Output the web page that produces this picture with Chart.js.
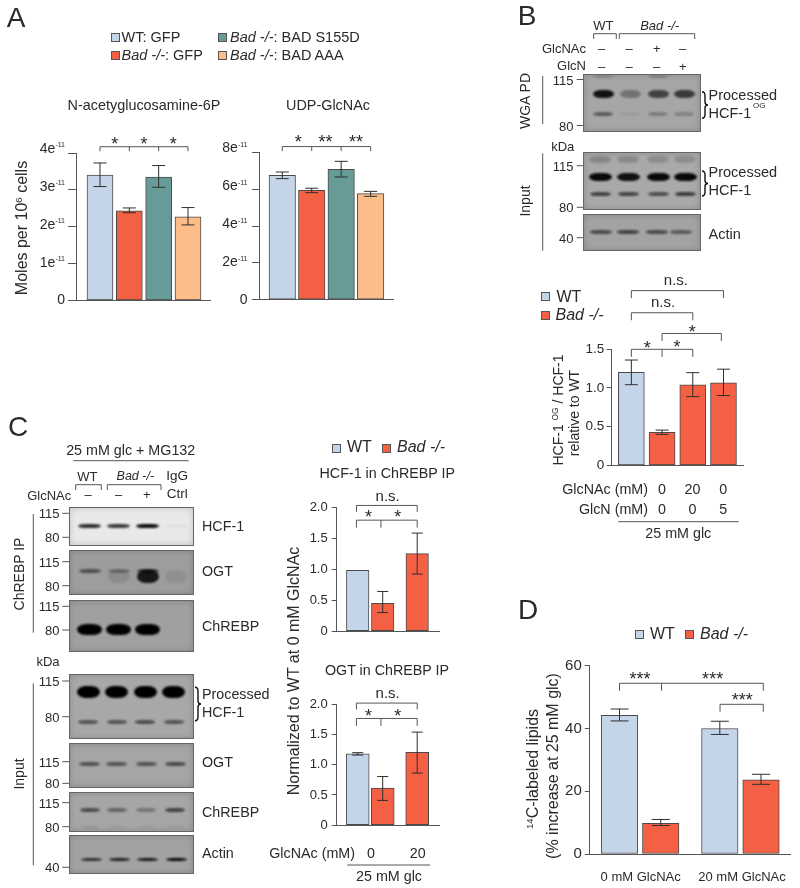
<!DOCTYPE html>
<html>
<head>
<meta charset="utf-8">
<title>HCF-1 / GlcNAc panels</title>
<script src="https://cdn.jsdelivr.net/npm/chart.js@4.4.0/dist/chart.umd.min.js"></script>
<style>
  html, body { margin: 0; background: #fff; }
  #page { position: relative; width: 800px; height: 888px; overflow: hidden; font-family: "Liberation Sans", Arial, sans-serif; color: #2a2a2a; }
  #page canvas { position: absolute; }
  .t { position: absolute; white-space: nowrap; line-height: 1; }
  .t .up { font-size: .6em; vertical-align: .55em; line-height: 0; }
  .sw { position: absolute; box-sizing: border-box; border: 1px solid #555; }
  .blot { position: absolute; box-sizing: border-box; border: 1px solid #666; overflow: hidden; box-shadow: inset 0 0 6px rgba(0,0,0,.18); }
  .band { position: absolute; border-radius: 38% / 50%; background: #000; filter: blur(1.2px); }
  svg { position: absolute; left: 0; top: 0; }
</style>
</head>
<body>
<div id="page"></div>
<script>
// colours of the four groups
const BLUE = '#c5d5e9', RED = '#f46044', TEAL = '#669b98', PEACH = '#fdbd88';

// panel A, N-acetylglucosamine-6P (x 1e-11)
const aGroups = ['WT: GFP', 'Bad -/-: GFP', 'Bad -/-: BAD S155D', 'Bad -/-: BAD AAA'];
const a1Values = [3.40, 2.43, 3.35, 2.27];
const a1Hi = [3.73, 2.51, 3.66, 2.52];
const a1Lo = [3.09, 2.38, 3.07, 2.05];
// panel A, UDP-GlcNAc (x 1e-11)
const a2Values = [6.75, 5.94, 7.07, 5.76];
const a2Hi = [6.93, 6.05, 7.51, 5.88];
const a2Lo = [6.57, 5.81, 6.66, 5.61];
// panel B
const bValues = [1.20, 0.427, 1.037, 1.065];
const bHi = [1.358, 0.455, 1.195, 1.24];
const bLo = [1.04, 0.40, 0.886, 0.90];
const bGlcNAc = ['0', '20', '0'];
const bGlcN = ['0', '0', '5'];
// panel C
const c1Values = [0.98, 0.45, 1.25];
const c1Hi = [null, 0.64, 1.58];
const c1Lo = [null, 0.30, 0.92];
const c2Values = [1.18, 0.613, 1.205];
const c2Hi = [1.20, 0.805, 1.54];
const c2Lo = [1.16, 0.41, 0.862];
const cGlcNAc = ['0', '20'];
// panel D
const dCategories = ['0 mM GlcNAc', '20 mM GlcNAc'];
const dValues = [44.2, 9.8, 40.0, 23.6];
const dHi = [46.2, 11.0, 42.3, 25.4];
const dLo = [42.4, 9.07, 38.1, 22.2];

const page = document.getElementById('page');

function t(x, y, html, o) {
  o = o || {};
  const d = document.createElement('div');
  d.className = 't';
  d.innerHTML = html;
  d.style.left = x + 'px';
  d.style.top = y + 'px';
  d.style.fontSize = (o.s || 14.3) + 'px';
  const tx = o.a === 'l' ? '0' : o.a === 'r' ? '-100%' : '-50%';
  d.style.transform = 'translate(' + tx + ',-50%)' + (o.rot ? ' rotate(-90deg)' : '');
  page.appendChild(d);
}

function swatch(x, y, c) {
  const d = document.createElement('div');
  d.className = 'sw';
  d.style.cssText = 'left:' + x + 'px;top:' + y + 'px;width:9px;height:9px;background:' + c;
  page.appendChild(d);
}

// error bars, brackets, stars: everything goes through the chart's scales
const marks = {
  id: 'marks',
  afterDraw(chart) {
    const m = chart.options.plugins.marks;
    const ctx = chart.ctx, sx = chart.scales.x, sy = chart.scales.y;
    ctx.save();
    ctx.lineWidth = 1;
    ctx.strokeStyle = '#2e2e2e';
    m.hi.forEach((h, i) => {
      if (h === null) return;
      const px = sx.getPixelForValue(m.xs[i]);
      const a = sy.getPixelForValue(h), b = sy.getPixelForValue(m.lo[i]);
      ctx.beginPath();
      ctx.moveTo(px, a); ctx.lineTo(px, b);
      ctx.moveTo(px - m.cap, a); ctx.lineTo(px + m.cap, a);
      ctx.moveTo(px - m.cap, b); ctx.lineTo(px + m.cap, b);
      ctx.stroke();
    });
    ctx.strokeStyle = '#555';
    (m.brackets || []).forEach(br => {
      const y = sy.getPixelForValue(br.at);
      const d = br.drop || 7;
      ctx.beginPath();
      ctx.moveTo(sx.getPixelForValue(br.from), y + d);
      ctx.lineTo(sx.getPixelForValue(br.from), y);
      ctx.lineTo(sx.getPixelForValue(br.to), y);
      ctx.lineTo(sx.getPixelForValue(br.to), y + d);
      (br.mids || []).forEach(v => {
        ctx.moveTo(sx.getPixelForValue(v), y);
        ctx.lineTo(sx.getPixelForValue(v), y + d);
      });
      ctx.stroke();
    });
    ctx.fillStyle = '#2a2a2a';
    ctx.textAlign = 'center';
    ctx.textBaseline = 'middle';
    (m.notes || []).forEach(n => {
      const star = n.text[0] === '*';
      const size = star ? 18 : 15;
      ctx.font = size + 'px "Liberation Sans"';
      ctx.fillText(n.text, sx.getPixelForValue(n.x), sy.getPixelForValue(n.y) + (star ? size * 0.25 : 0));
    });
    if (m.sup) {
      // tick labels with a small raised exponent, they sit a little above the marks near the top
      ctx.textAlign = 'right';
      sy.ticks.forEach(tk => {
        const y = sy.getPixelForValue(tk.value) - 4.5 * tk.value / sy.max + (tk.value ? 0.5 : 0);
        const xr = sx.left - 11.5;
        if (tk.value === 0) {
          ctx.font = '14px "Liberation Sans"';
          ctx.fillText('0', xr, y);
        } else {
          ctx.font = '7px "Liberation Sans"';
          ctx.fillText(m.sup, xr, y - 3.5);
          const w = ctx.measureText(m.sup).width;
          ctx.font = '14px "Liberation Sans"';
          ctx.fillText(tk.value + 'e', xr - w, y);
        }
      });
    }
    ctx.restore();
  }
};

function barPanel(o) {
  const x0 = o.plot[0], y0 = o.plot[1], x1 = o.plot[2], y1 = o.plot[3];
  const left = Math.round(x0 - 62), top = Math.round(y0 - 90);
  const W = Math.round(x1 - left + 12), H = Math.round(y1 - top + 4);
  const c = document.createElement('canvas');
  c.width = W; c.height = H;
  c.style.left = left + 'px';
  c.style.top = top + 'px';
  c.style.width = W + 'px';
  c.style.height = H + 'px';
  page.appendChild(c);
  new Chart(c.getContext('2d'), {
    type: 'bar',
    data: {
      labels: o.xs,
      datasets: [{
        data: o.xs.map((x, i) => ({ x: x, y: o.values[i] })),
        backgroundColor: o.colors,
        borderColor: '#4a4a4a',
        borderWidth: 1,
        borderSkipped: false,
        barThickness: o.bar
      }]
    },
    options: {
      responsive: false,
      animation: false,
      devicePixelRatio: 1,
      events: [],
      layout: { padding: { left: 0, top: y0 - top, right: W - (x1 - left), bottom: H - (y1 - top) } },
      plugins: {
        legend: { display: false },
        tooltip: { enabled: false },
        marks: { xs: o.xs, hi: o.hi, lo: o.lo, cap: o.cap, brackets: o.brackets, notes: o.notes, sup: o.sup }
      },
      scales: {
        x: {
          type: 'linear', min: o.xMin, max: o.xMax, offset: false,
          grid: { display: false },
          border: { color: '#555', width: 1 },
          ticks: { display: false },
          afterFit: s => { s.height = 0; }
        },
        y: {
          min: 0, max: o.yMax,
          border: { color: '#555', width: 1 },
          grid: { drawOnChartArea: false, color: '#555', tickLength: o.tick },
          ticks: {
            display: !o.sup, stepSize: o.step, padding: o.pad || 3, color: '#2a2a2a',
            font: { family: 'Liberation Sans', size: o.tickFont || 13.5 },
            callback: o.tickFmt
          },
          afterFit: s => { s.width = x0 - left; }
        }
      }
    },
    plugins: [marks]
  });
}

const fix1 = v => v === 0 ? '0' : v.toFixed(1);
const slotsA = [1, 2, 3, 4];

barPanel({
  plot: [76.5, 153, 210, 300.5], xs: slotsA, xMin: 0.2, xMax: 4.75, bar: 26, cap: 6.5, tick: 8.5,
  values: a1Values, hi: a1Hi, lo: a1Lo, colors: [BLUE, RED, TEAL, PEACH], yMax: 4, step: 1, sup: '-11',
  brackets: [{ from: 1, to: 4, mids: [2, 3], at: 4.17, drop: 4.5 }],
  notes: [{ x: 1.5, y: 4.35, text: '*' }, { x: 2.5, y: 4.35, text: '*' }, { x: 3.5, y: 4.35, text: '*' }]
});
barPanel({
  plot: [259, 152.3, 393, 299.7], xs: slotsA, xMin: 0.21, xMax: 4.76, bar: 26.5, cap: 6.5, tick: 7,
  values: a2Values, hi: a2Hi, lo: a2Lo, colors: [BLUE, RED, TEAL, PEACH], yMax: 8, step: 2, sup: '-11',
  brackets: [{ from: 1, to: 4, mids: [2, 3], at: 8.31, drop: 4.5 }],
  notes: [{ x: 1.54, y: 8.75, text: '*' }, { x: 2.47, y: 8.75, text: '**' }, { x: 3.5, y: 8.75, text: '**' }]
});
barPanel({
  plot: [611.7, 349, 743.3, 472], xs: slotsA, xMin: 0.36, xMax: 4.645, bar: 26, cap: 6.5, tick: 5, pad: 2.5,
  values: bValues, hi: bHi, lo: bLo, colors: [BLUE, RED, RED, RED], yMax: 1.5, step: 0.5, tickFmt: fix1,
  brackets: [
    { from: 1, to: 4, at: 2.252, drop: 7.5 },
    { from: 1, to: 3, at: 1.967, drop: 7.5 },
    { from: 2, to: 3.93, at: 1.70, drop: 7.5 },
    { from: 1, to: 3, mids: [2], at: 1.496, drop: 7.5 }
  ],
  notes: [
    { x: 2.45, y: 2.38, text: 'n.s.' }, { x: 2.03, y: 2.10, text: 'n.s.' },
    { x: 1.52, y: 1.56, text: '*' }, { x: 2.49, y: 1.57, text: '*' }, { x: 2.98, y: 1.76, text: '*' }
  ]
});
const slotsC = [1, 2, 3.38];
barPanel({
  plot: [336.7, 507, 439.3, 639], xs: slotsC, xMin: 0.16, xMax: 4.264, bar: 22.5, cap: 5.5, tick: 5, pad: 4, tickFont: 13,
  values: c1Values, hi: c1Hi, lo: c1Lo, colors: [BLUE, RED, RED], yMax: 2, step: 0.5, tickFmt: fix1,
  brackets: [
    { from: 0.95, to: 3.38, at: 2.025, drop: 6.5 },
    { from: 0.95, to: 3.38, mids: [1.93], at: 1.788, drop: 7.5 }
  ],
  notes: [{ x: 2.2, y: 2.17, text: 'n.s.' }, { x: 1.43, y: 1.89, text: '*' }, { x: 2.6, y: 1.89, text: '*' }]
});
barPanel({
  plot: [336.7, 704.3, 439.3, 832.7], xs: slotsC, xMin: 0.16, xMax: 4.264, bar: 23, cap: 5.5, tick: 5, pad: 4, tickFont: 13,
  values: c2Values, hi: c2Hi, lo: c2Lo, colors: [BLUE, RED, RED], yMax: 2, step: 0.5, tickFmt: fix1,
  brackets: [
    { from: 0.95, to: 3.38, at: 2.02, drop: 6.5 },
    { from: 0.95, to: 3.38, mids: [1.93], at: 1.766, drop: 7.5 }
  ],
  notes: [{ x: 2.2, y: 2.17, text: 'n.s.' }, { x: 1.43, y: 1.87, text: '*' }, { x: 2.6, y: 1.87, text: '*' }]
});
barPanel({
  plot: [589.3, 665.7, 790.3, 862], xs: [1, 2, 3.434, 4.434], xMin: 0.267, xMax: 5.145, bar: 36.5, cap: 9, tick: 4.5,
  values: dValues, hi: dHi, lo: dLo, colors: [BLUE, RED, BLUE, RED], yMax: 60, step: 20, tickFont: 15,
  brackets: [
    { from: 1, to: 4.49, mids: [2.02], at: 54.4, drop: 7.5 },
    { from: 3.44, to: 4.49, at: 47.7, drop: 7.5 }
  ],
  notes: [{ x: 1.5, y: 56.8, text: '***' }, { x: 3.26, y: 56.8, text: '***' }, { x: 3.98, y: 50.2, text: '***' }]
});

// blot panels (photographs in the original, only approximated here)
const blots = [
  { box: [583, 74, 701, 131.5], bg: '#a6a6a6', lanes: [602, 629, 657, 683], rows: [
    { y: 75, h: 3, w: 20, a: [.15, 0, .2, 0] },
    { y: 92.5, h: 8, w: 21, a: [.9, .3, .6, .65] },
    { y: 113, h: 4, w: 20, a: [.45, .05, .25, .22] } ] },
  { box: [583, 151.7, 701, 210], bg: '#a9a9a9', lanes: [599, 627, 657, 684], rows: [
    { y: 159, h: 7, w: 22, a: [.2, .18, .16, .16] },
    { y: 176, h: 8.5, w: 23, a: [.95, .9, .95, .95] },
    { y: 193, h: 4.5, w: 21, a: [.6, .6, .55, .65] } ] },
  { box: [583, 214.3, 701, 251], bg: '#a3a3a3', lanes: [600, 627, 656, 680], rows: [
    { y: 231, h: 3.5, w: 22, a: [.55, .6, .55, .45] } ] },
  { box: [69, 506.7, 193.7, 546], bg: '#e9e9e9', lanes: [88.5, 117.5, 146.7, 175], rows: [
    { y: 525, h: 4.5, w: 23, a: [.8, .75, .95, .03] } ] },
  { box: [69, 550.3, 193.7, 595.3], bg: '#9d9d9d', lanes: [88.5, 117.5, 146.7, 175], rows: [
    { y: 570.5, h: 4, w: 22, a: [.5, .3, .6, 0] },
    { y: 576, h: 13, w: 22, a: [0, .1, .85, .08] } ] },
  { box: [69, 600.3, 193.7, 652], bg: '#a0a0a0', lanes: [88.5, 117, 146, 175], rows: [
    { y: 628.5, h: 11, w: 25, a: [1, 1, 1, 0] } ] },
  { box: [69, 674.3, 193.7, 738.7], bg: '#a8a8a8', lanes: [87.3, 115.7, 144.3, 172.7], rows: [
    { y: 691.5, h: 12, w: 23, a: [1, 1, 1, 1] },
    { y: 721, h: 3.5, w: 20, a: [.5, .5, .55, .5] } ] },
  { box: [69, 743.3, 193.7, 788], bg: '#a5a5a5', lanes: [88, 115, 145, 174], rows: [
    { y: 763, h: 4, w: 21, a: [.5, .5, .5, .55] } ] },
  { box: [69, 792.3, 193.7, 832], bg: '#a6a6a6', lanes: [89, 116, 145, 174], rows: [
    { y: 809.5, h: 4, w: 20, a: [.55, .4, .3, .6] },
    { y: 826.5, h: 2, w: 18, a: [.12, .08, .06, .08] } ] },
  { box: [69, 835.3, 193.7, 874], bg: '#a2a2a2', lanes: [90, 118, 146, 175], rows: [
    { y: 858.5, h: 3.5, w: 21, a: [.7, .8, .85, .95] } ] }
];
blots.forEach(b => {
  const d = document.createElement('div');
  d.className = 'blot';
  d.style.cssText = 'left:' + b.box[0] + 'px;top:' + b.box[1] + 'px;width:' + (b.box[2] - b.box[0]) + 'px;height:' + (b.box[3] - b.box[1]) + 'px;background:' + b.bg;
  b.rows.forEach(r => r.a.forEach((alpha, i) => {
    if (!alpha) return;
    const e = document.createElement('div');
    e.className = 'band';
    e.style.cssText = 'left:' + (b.lanes[i] - r.w / 2 - b.box[0]) + 'px;top:' + (r.y - r.h / 2 - b.box[1]) + 'px;width:' + r.w + 'px;height:' + r.h + 'px;opacity:' + alpha;
    d.appendChild(e);
  }));
  page.appendChild(d);
});

// thin lines around the blots and below the charts
const NS = 'http://www.w3.org/2000/svg';
const svg = document.createElementNS(NS, 'svg');
svg.setAttribute('width', 800);
svg.setAttribute('height', 888);
const guide = [
  'M593.7 39V33.7H616.3V39', 'M619.3 39V33.7H694.7V39',
  'M542.7 76V124', 'M542.7 153.3V250.7',
  'M576.7 79.5H583', 'M576.7 125.5H583', 'M576.7 165.7H583', 'M576.7 207.3H583', 'M576.7 237.7H583',
  'M618.3 521.7H738.7',
  'M73.3 460.7H188.7', 'M75.7 490V484.7H101.3V490', 'M107.3 490V484.7H161V490',
  'M33.3 514V632.7', 'M33.3 683.3V865.3',
  'M62.3 513.3H69', 'M62.3 537.3H69', 'M62.3 561.7H69', 'M62.3 585.7H69', 'M62.3 606.3H69', 'M62.3 630H69',
  'M62.3 681H69', 'M62.3 716.7H69', 'M62.3 761.7H69', 'M62.3 783.3H69', 'M62.3 802.7H69', 'M62.3 826.7H69', 'M62.3 867.3H69',
  'M347.3 865H430'
];
guide.forEach(p => {
  const e = document.createElementNS(NS, 'path');
  e.setAttribute('d', p);
  e.setAttribute('fill', 'none');
  e.setAttribute('stroke', '#555');
  e.setAttribute('stroke-width', 1);
  svg.appendChild(e);
});
const braces = [[702, 91.7, 118.3], [702, 171, 196], [195, 687.3, 720.7]];
braces.forEach(b => {
  const x = b[0], y0 = b[1], y1 = b[2], m = (y0 + y1) / 2;
  const e = document.createElementNS(NS, 'path');
  e.setAttribute('d', 'M' + x + ' ' + y0 + 'Q' + (x + 3) + ' ' + y0 + ' ' + (x + 3) + ' ' + (y0 + 4) + 'V' + (m - 3) + 'Q' + (x + 3) + ' ' + m + ' ' + (x + 6) + ' ' + m + 'Q' + (x + 3) + ' ' + m + ' ' + (x + 3) + ' ' + (m + 3) + 'V' + (y1 - 4) + 'Q' + (x + 3) + ' ' + y1 + ' ' + x + ' ' + y1);
  e.setAttribute('fill', 'none');
  e.setAttribute('stroke', '#111');
  e.setAttribute('stroke-width', 1.4);
  svg.appendChild(e);
});
page.appendChild(svg);

// panel letters
t(16, 18, 'A', { s: 28 });
t(527, 16, 'B', { s: 28 });
t(18, 427, 'C', { s: 28 });
t(528, 610, 'D', { s: 28 });

const bad = '<i>Bad -/-</i>';

// panel A text
swatch(110.5, 33, BLUE); t(121.5, 37, aGroups[0], { a: 'l', s: 14.5 });
swatch(110.5, 50.5, RED); t(121.5, 55, '<i>Bad -/-</i>: GFP', { a: 'l', s: 14.5 });
swatch(218, 33, TEAL); t(230, 37, '<i>Bad -/-</i>: BAD S155D', { a: 'l', s: 14.5 });
swatch(218, 50.5, PEACH); t(230, 55, '<i>Bad -/-</i>: BAD AAA', { a: 'l', s: 14.5 });
t(144, 105, 'N-acetyglucosamine-6P', { s: 14.4 });
t(328, 105, 'UDP-GlcNAc', { s: 14.4 });
t(21.5, 227.5, 'Moles per 10<span class="up">6</span> cells', { s: 16, rot: 1 });

// panel B blot text
t(603.3, 24.5, 'WT', { s: 13 });
t(659.7, 24.5, bad, { s: 13 });
t(586, 48, 'GlcNAc', { a: 'r', s: 13 });
t(586, 65, 'GlcN', { a: 'r', s: 13 });
[[601.7, '–'], [629, '–'], [656.7, '+'], [682.7, '–']].forEach(m => t(m[0], 48, m[1], { s: 13 }));
[[601.7, '–'], [629, '–'], [656.7, '–'], [682.7, '+']].forEach(m => t(m[0], 65.5, m[1], { s: 13 }));
[[79.5, '115'], [125.5, '80'], [165.7, '115'], [207.3, '80'], [237.7, '40']].forEach(m => t(573.5, m[0], m[1], { a: 'r', s: 13 }));
t(562.7, 146, 'kDa', { s: 13 });
t(525, 101, 'WGA PD', { s: 14, rot: 1 });
t(525, 201, 'Input', { s: 14, rot: 1 });
t(708.5, 94.5, 'Processed', { a: 'l', s: 14.5 });
t(708.5, 113, 'HCF-1', { a: 'l', s: 14.5 });
t(753, 105.5, 'OG', { a: 'l', s: 8 });
t(708.5, 172, 'Processed', { a: 'l', s: 14.5 });
t(708.5, 189.5, 'HCF-1', { a: 'l', s: 14.5 });
t(708.5, 234, 'Actin', { a: 'l', s: 14.5 });

// panel B chart text
swatch(541, 292, BLUE); t(556.5, 297, 'WT', { a: 'l', s: 16 });
swatch(541, 311, RED); t(555.5, 315, bad, { a: 'l', s: 16 });
t(557.5, 410, 'HCF-1 <span class="up">OG</span> / HCF-1', { s: 14, rot: 1 });
t(574, 412.5, 'relative to WT', { s: 14, rot: 1 });
t(648, 488.5, 'GlcNAc (mM)', { a: 'r' });
t(648, 509, 'GlcN (mM)', { a: 'r' });
[662, 692.5, 723.3].forEach((x, i) => {
  t(x, 488.5, bGlcNAc[i]);
  t(x, 509, bGlcN[i]);
});
t(678.3, 532.5, '25 mM glc');

// panel C blot text
t(130.7, 449.5, '25 mM glc + MG132');
t(87.3, 475.5, 'WT', { s: 13 });
t(135.3, 475.5, bad, { s: 12.5 });
t(177.2, 475.5, 'IgG', { s: 13.5 });
t(177.2, 493.5, 'Ctrl', { s: 13.5 });
t(71.3, 494.5, 'GlcNAc', { a: 'r', s: 13 });
[[88, '–'], [118.7, '–'], [146.7, '+']].forEach(m => t(m[0], 494, m[1], { s: 13 }));
[[513.3, '115'], [537.3, '80'], [561.7, '115'], [585.7, '80'], [606.3, '115'], [630, '80'],
 [681, '115'], [716.7, '80'], [761.7, '115'], [783.3, '80'], [802.7, '115'], [826.7, '80'], [867.3, '40']
].forEach(m => t(59.5, m[0], m[1], { a: 'r', s: 13 }));
t(48, 661, 'kDa', { s: 13 });
t(19, 573.5, 'ChREBP IP', { s: 14, rot: 1 });
t(19, 774, 'Input', { s: 14, rot: 1 });
[[526, 'HCF-1'], [570.7, 'OGT'], [626, 'ChREBP'], [694, 'Processed'], [711.7, 'HCF-1'], [762, 'OGT'], [812, 'ChREBP'], [853.3, 'Actin']
].forEach(m => t(202, m[0], m[1], { a: 'l', s: 14.3 }));

// panel C chart text
swatch(331.5, 443.5, BLUE); t(347, 447, 'WT', { a: 'l', s: 16 });
swatch(382, 443.5, RED); t(397, 447, bad, { a: 'l', s: 16 });
t(387.3, 472.5, 'HCF-1 in ChREBP IP');
t(387, 670, 'OGT in ChREBP IP');
t(294, 670.5, 'Normalized to WT at 0 mM GlcNAc', { s: 16, rot: 1 });
t(355, 852.5, 'GlcNAc (mM)', { a: 'r' });
t(371, 852.5, cGlcNAc[0]);
t(417.7, 852.5, cGlcNAc[1]);
t(389, 876, '25 mM glc');

// panel D text
swatch(634.5, 630, BLUE); t(650, 633.5, 'WT', { a: 'l', s: 16 });
swatch(685, 630, RED); t(700, 633.5, bad, { a: 'l', s: 16 });
t(533, 769, '<span class="up">14</span>C-labeled lipids', { s: 16, rot: 1 });
t(552.5, 765.5, '(% increase at 25 mM glc)', { s: 16, rot: 1 });
t(640.7, 876, dCategories[0], { s: 13 });
t(742, 876, dCategories[1], { s: 13 });
</script>
</body>
</html>
